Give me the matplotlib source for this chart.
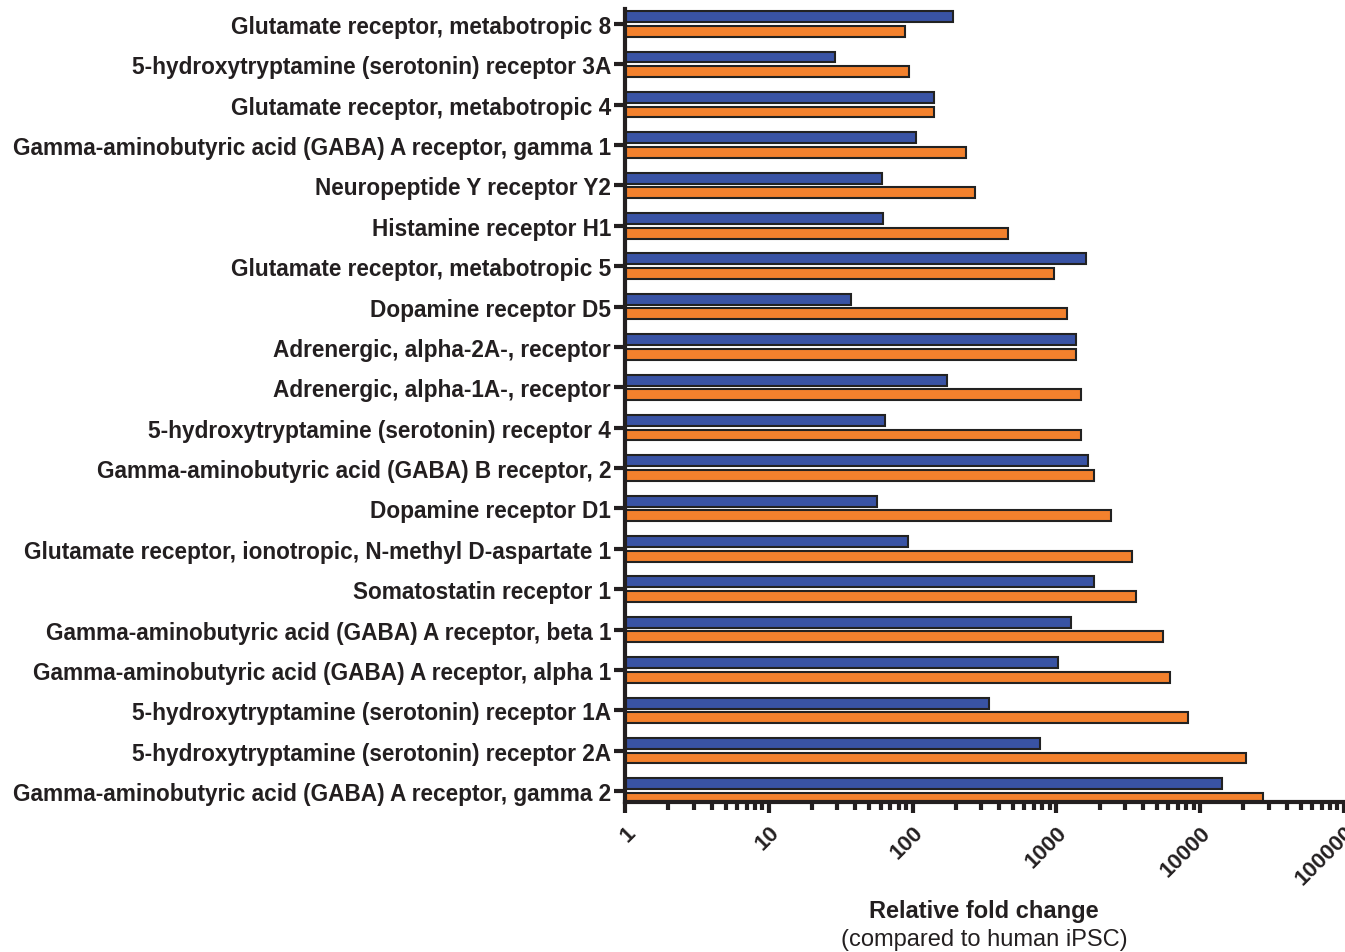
import numpy as np
import matplotlib.pyplot as plt
from matplotlib.ticker import LogLocator, FixedLocator, NullFormatter

plt.rcParams['font.family'] = ['Liberation Sans', 'DejaVu Sans']

# receptor genes, top to bottom
genes = [
    'Glutamate receptor, metabotropic 8',
    '5-hydroxytryptamine (serotonin) receptor 3A',
    'Glutamate receptor, metabotropic 4',
    'Gamma-aminobutyric acid (GABA) A receptor, gamma 1',
    'Neuropeptide Y receptor Y2',
    'Histamine receptor H1',
    'Glutamate receptor, metabotropic 5',
    'Dopamine receptor D5',
    'Adrenergic, alpha-2A-, receptor',
    'Adrenergic, alpha-1A-, receptor',
    '5-hydroxytryptamine (serotonin) receptor 4',
    'Gamma-aminobutyric acid (GABA) B receptor, 2',
    'Dopamine receptor D1',
    'Glutamate receptor, ionotropic, N-methyl D-aspartate 1',
    'Somatostatin receptor 1',
    'Gamma-aminobutyric acid (GABA) A receptor, beta 1',
    'Gamma-aminobutyric acid (GABA) A receptor, alpha 1',
    '5-hydroxytryptamine (serotonin) receptor 1A',
    '5-hydroxytryptamine (serotonin) receptor 2A',
    'Gamma-aminobutyric acid (GABA) A receptor, gamma 2',
]

# fold change vs human iPSC
fold_blue = [192, 29, 140, 105, 61, 62, 1600, 37, 1370, 174, 64, 1650, 57, 93,
             1830, 1270, 1030, 340, 770, 14200]
fold_orange = [88, 94, 142, 237, 270, 460, 955, 1180, 1370, 1480, 1490, 1820,
               2380, 3370, 3570, 5500, 6200, 8200, 20900, 27500]

xticks = [1, 10, 100, 1000, 10000, 100000]
xtick_labels = ['1', '10', '100', '1000', '10000', '100000']

blue = '#3953a4'
orange = '#f3812d'
dark = '#231f20'

fig = plt.figure(figsize=(13.45, 9.53), dpi=100)
ax = fig.add_axes([625 / 1345, 1 - 803 / 953, 719 / 1345, 793 / 953])

y = np.arange(len(genes))
h = 0.27
off = 0.18
ax.barh(y - off, np.array(fold_blue) - 1, left=1, height=h, color=blue,
        edgecolor='#222222', linewidth=1.5)
ax.barh(y + off, np.array(fold_orange) - 1, left=1, height=h, color=orange,
        edgecolor='#222222', linewidth=1.5)

ax.set_xscale('log')
ax.set_xlim(1, 100000)
ax.set_ylim(len(genes) - 1 + 0.27, -0.37)

ax.xaxis.set_major_locator(FixedLocator(xticks))
ax.set_xticklabels(xtick_labels, rotation=45, ha='right', rotation_mode='anchor',
                   fontsize=16, fontweight='bold')
ax.xaxis.set_minor_locator(LogLocator(base=10, subs=np.arange(2, 10)))
ax.xaxis.set_minor_formatter(NullFormatter())

ax.set_yticks(y)
ax.set_yticklabels(genes, fontsize=16.3, fontweight='bold', color=dark)

for s in ['top', 'right']:
    ax.spines[s].set_visible(False)
for s in ['left', 'bottom']:
    ax.spines[s].set_linewidth(3)
    ax.spines[s].set_color(dark)

ax.tick_params(axis='y', length=8, width=3, color=dark, pad=2)
ax.tick_params(axis='x', which='major', length=8, width=3, color=dark,
               pad=6, labelcolor=dark)
ax.tick_params(axis='x', which='minor', length=6, width=3, color=dark)

fig.text(984 / 1345, 1 - 912 / 953, 'Relative fold change', ha='center',
         va='center', fontsize=17, fontweight='bold', color=dark)
fig.text(984 / 1345, 1 - 940 / 953, '(compared to human iPSC)', ha='center',
         va='center', fontsize=17, color=dark)

fig.savefig('out.png', dpi=100)
